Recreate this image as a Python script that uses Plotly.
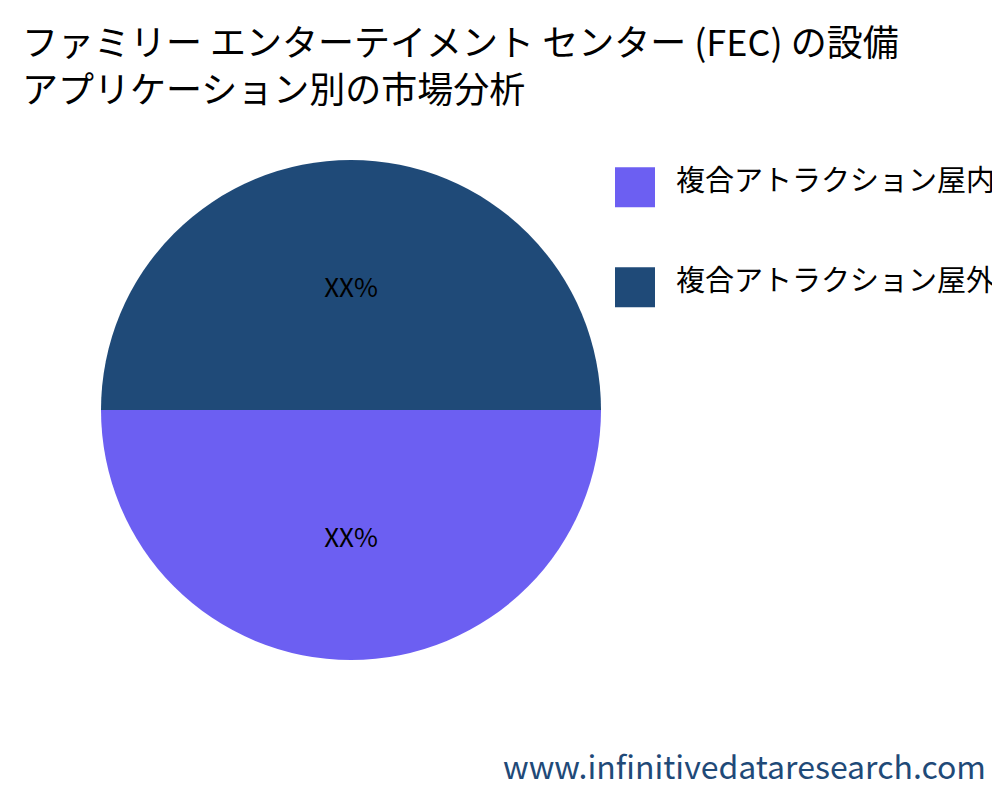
import plotly.graph_objects as go

labels = ["複合アトラクション屋内", "複合アトラクション屋外"]
values = [50, 50]
texts = ["XX%", "XX%"]
colors = ["#6c5ff2", "#1f4a78"]

fig = go.Figure(go.Pie(
    labels=labels, values=values, text=texts, textinfo="text",
    marker=dict(colors=colors), sort=False, direction="clockwise", rotation=90,
    textfont=dict(size=26, color="black"), insidetextorientation="horizontal",
    domain=dict(x=[0.093, 0.593], y=[0.185, 0.81]), hoverinfo="label+percent", showlegend=False
))
shapes, anns = [], []
for i, (lab, col) in enumerate(zip(labels, colors)):
    yc = 0.776 - i * 0.125
    shapes.append(dict(type="rect", xref="paper", yref="paper", x0=0.607, x1=0.647,
                       y0=yc - 0.025, y1=yc + 0.025, fillcolor=col, line=dict(width=0)))
    anns.append(dict(text=lab, x=0.666, y=yc + 0.012, xref="paper", yref="paper", xanchor="left",
                     yanchor="middle", showarrow=False, font=dict(size=29, color="black")))
anns.append(dict(text="www.infinitivedataresearch.com", x=0.98, y=0.022, xref="paper", yref="paper",
                 xanchor="right", yanchor="bottom", showarrow=False,
                 font=dict(size=32, color="#1f4a78")))
anns.append(dict(text="ファミリー エンターテイメント センター (FEC) の設備<br>アプリケーション別の市場分析",
                 x=0.012, y=0.995, xref="paper", yref="paper", xanchor="left", yanchor="top",
                 align="left", showarrow=False, font=dict(size=36, color="black")))
fig.update_layout(
    width=1000, height=800, paper_bgcolor="white",
    font=dict(family="Noto Sans CJK JP"),
    margin=dict(l=0, r=0, t=0, b=0),
    shapes=shapes, annotations=anns
)
fig.write_html("out.html")
